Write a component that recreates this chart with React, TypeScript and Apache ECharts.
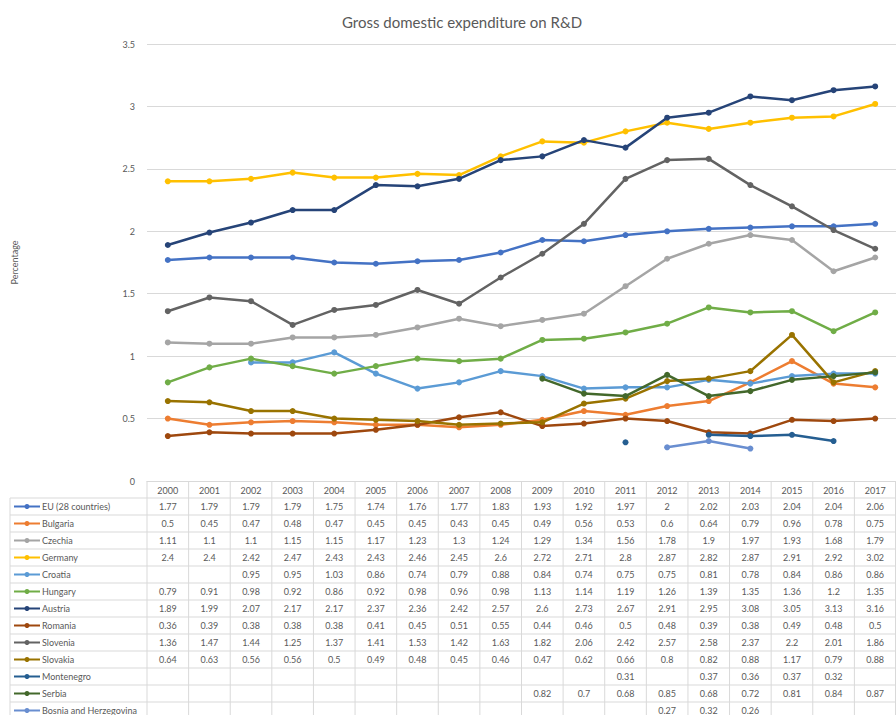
import React, { useEffect, useRef } from "react";
import * as echarts from "echarts";

const years = ["2000", "2001", "2002", "2003", "2004", "2005", "2006", "2007", "2008", "2009", "2010", "2011", "2012", "2013", "2014", "2015", "2016", "2017"];

const eu = [1.77, 1.79, 1.79, 1.79, 1.75, 1.74, 1.76, 1.77, 1.83, 1.93, 1.92, 1.97, 2, 2.02, 2.03, 2.04, 2.04, 2.06];
const bulgaria = [0.5, 0.45, 0.47, 0.48, 0.47, 0.45, 0.45, 0.43, 0.45, 0.49, 0.56, 0.53, 0.6, 0.64, 0.79, 0.96, 0.78, 0.75];
const czechia = [1.11, 1.1, 1.1, 1.15, 1.15, 1.17, 1.23, 1.3, 1.24, 1.29, 1.34, 1.56, 1.78, 1.9, 1.97, 1.93, 1.68, 1.79];
const germany = [2.4, 2.4, 2.42, 2.47, 2.43, 2.43, 2.46, 2.45, 2.6, 2.72, 2.71, 2.8, 2.87, 2.82, 2.87, 2.91, 2.92, 3.02];
const croatia = [null, null, 0.95, 0.95, 1.03, 0.86, 0.74, 0.79, 0.88, 0.84, 0.74, 0.75, 0.75, 0.81, 0.78, 0.84, 0.86, 0.86];
const hungary = [0.79, 0.91, 0.98, 0.92, 0.86, 0.92, 0.98, 0.96, 0.98, 1.13, 1.14, 1.19, 1.26, 1.39, 1.35, 1.36, 1.2, 1.35];
const austria = [1.89, 1.99, 2.07, 2.17, 2.17, 2.37, 2.36, 2.42, 2.57, 2.6, 2.73, 2.67, 2.91, 2.95, 3.08, 3.05, 3.13, 3.16];
const romania = [0.36, 0.39, 0.38, 0.38, 0.38, 0.41, 0.45, 0.51, 0.55, 0.44, 0.46, 0.5, 0.48, 0.39, 0.38, 0.49, 0.48, 0.5];
const slovenia = [1.36, 1.47, 1.44, 1.25, 1.37, 1.41, 1.53, 1.42, 1.63, 1.82, 2.06, 2.42, 2.57, 2.58, 2.37, 2.2, 2.01, 1.86];
const slovakia = [0.64, 0.63, 0.56, 0.56, 0.5, 0.49, 0.48, 0.45, 0.46, 0.47, 0.62, 0.66, 0.8, 0.82, 0.88, 1.17, 0.79, 0.88];
const montenegro = [null, null, null, null, null, null, null, null, null, null, null, 0.31, null, 0.37, 0.36, 0.37, 0.32, null];
const serbia = [null, null, null, null, null, null, null, null, null, 0.82, 0.7, 0.68, 0.85, 0.68, 0.72, 0.81, 0.84, 0.87];
const bosnia = [null, null, null, null, null, null, null, null, null, null, null, null, 0.27, 0.32, 0.26, null, null, null];

const countryNames = ["EU (28 countries)", "Bulgaria", "Czechia", "Germany", "Croatia", "Hungary", "Austria", "Romania", "Slovenia", "Slovakia", "Montenegro", "Serbia", "Bosnia and Herzegovina"];
const countryValues = [eu, bulgaria, czechia, germany, croatia, hungary, austria, romania, slovenia, slovakia, montenegro, serbia, bosnia];
const countryColors = ["#4472C4", "#ED7D31", "#A5A5A5", "#FFC000", "#5B9BD5", "#70AD47", "#264478", "#9E480E", "#636363", "#997300", "#255E91", "#43682B", "#698ED0"];

const FONT = "Lato, 'Open Sans', sans-serif";
const TEXT_COLOR = "#595959";
const BORDER = "#d9d9d9";

const GRID_LEFT = 147;
const GRID_TOP = 44;
const GRID_BOTTOM = 234;
const ROW_H = 17;
const TABLE_LEFT = 10;

export default function App() {
  const ref = useRef<HTMLDivElement>(null);

  useEffect(() => {
    if (!ref.current) return;
    const chart = echarts.init(ref.current, null, { renderer: "svg" });
    const width = chart.getWidth();
    const height = chart.getHeight();

    chart.setOption({
      animation: false,
      backgroundColor: "#ffffff",
      textStyle: { fontFamily: FONT },
      title: {
        text: "Gross domestic expenditure on R&D",
        left: 457,
        textAlign: "center",
        top: 9,
        textStyle: { fontFamily: FONT, fontSize: 15, fontWeight: "normal", color: TEXT_COLOR },
      },
      grid: { left: GRID_LEFT, right: 0, top: GRID_TOP, bottom: GRID_BOTTOM },
      xAxis: {
        type: "category",
        data: years,
        boundaryGap: true,
        axisLine: { lineStyle: { color: BORDER, width: 1 } },
        axisTick: { show: false },
        axisLabel: { color: TEXT_COLOR, fontSize: 9, margin: 5, fontFamily: FONT },
      },
      yAxis: {
        type: "value",
        min: 0,
        max: 3.5,
        interval: 0.5,
        name: "Percentage",
        nameLocation: "middle",
        nameRotate: 90,
        nameGap: 128,
        nameTextStyle: { color: TEXT_COLOR, fontSize: 9, fontFamily: FONT },
        axisLine: { show: false },
        axisTick: { show: false },
        axisLabel: { color: TEXT_COLOR, fontSize: 9, margin: 12, fontFamily: FONT },
        splitLine: { lineStyle: { color: BORDER, width: 1 } },
      },
      series: countryNames.map((name, i) => ({
        name,
        type: "line",
        data: countryValues[i],
        connectNulls: false,
        symbol: "circle",
        symbolSize: 6,
        showSymbol: true,
        lineStyle: { width: 2.5, color: countryColors[i] },
        itemStyle: { color: countryColors[i] },
        z: 2 + i,
      })),
    });

    // Data table under the plot, aligned to the category axis columns
    const centers = years.map((_, j) => chart.convertToPixel({ xAxisIndex: 0 }, j) as number);
    const colW = centers.length > 1 ? centers[1] - centers[0] : 40;
    const tableTop = height - GRID_BOTTOM;
    const bodyTop = tableTop + ROW_H;
    const elements: any[] = [];

    // vertical borders of value columns
    centers.forEach((c) => {
      elements.push({
        type: "line",
        shape: { x1: c - colW / 2, y1: tableTop, x2: c - colW / 2, y2: height },
        style: { stroke: BORDER, lineWidth: 1 },
        silent: true,
      });
    });
    elements.push({
      type: "line",
      shape: { x1: width - 0.5, y1: tableTop, x2: width - 0.5, y2: height },
      style: { stroke: BORDER, lineWidth: 1 },
      silent: true,
    });
    // left border of the name column
    elements.push({
      type: "line",
      shape: { x1: TABLE_LEFT, y1: bodyTop, x2: TABLE_LEFT, y2: height },
      style: { stroke: BORDER, lineWidth: 1 },
      silent: true,
    });
    // horizontal borders
    for (let r = 0; r <= countryNames.length; r++) {
      const y = bodyTop + r * ROW_H;
      elements.push({
        type: "line",
        shape: { x1: TABLE_LEFT, y1: y, x2: width, y2: y },
        style: { stroke: BORDER, lineWidth: 1 },
        silent: true,
      });
    }

    countryNames.forEach((name, i) => {
      const cy = bodyTop + i * ROW_H + ROW_H / 2;
      const color = countryColors[i];
      elements.push({
        type: "line",
        shape: { x1: TABLE_LEFT + 4, y1: cy, x2: TABLE_LEFT + 30, y2: cy },
        style: { stroke: color, lineWidth: 2 },
        silent: true,
      });
      elements.push({
        type: "circle",
        shape: { cx: TABLE_LEFT + 17, cy, r: 2.5 },
        style: { fill: color },
        silent: true,
      });
      elements.push({
        type: "text",
        x: TABLE_LEFT + 32,
        y: cy,
        style: { text: name, fill: TEXT_COLOR, fontSize: 9, fontFamily: FONT, align: "left", verticalAlign: "middle" },
        silent: true,
      });
      countryValues[i].forEach((v, j) => {
        if (v === null || v === undefined) return;
        elements.push({
          type: "text",
          x: centers[j],
          y: cy,
          style: { text: String(v), fill: TEXT_COLOR, fontSize: 9, fontFamily: FONT, align: "center", verticalAlign: "middle" },
          silent: true,
        });
      });
    });

    chart.setOption({ graphic: { elements } });

    return () => chart.dispose();
  }, []);

  return (
    <div
      ref={ref}
      style={{ position: "fixed", left: 0, top: 0, width: 896, height: 715, background: "#ffffff" }}
    />
  );
}
